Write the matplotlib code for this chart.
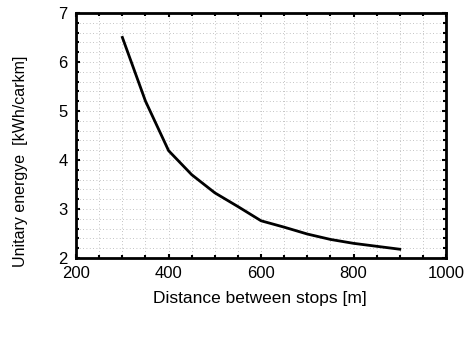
import numpy as np
import matplotlib
matplotlib.use("Agg")
import matplotlib.pyplot as plt
from matplotlib.ticker import MultipleLocator

# distance between stops [m] and unitary energy [kWh/carkm]
distance = [300, 350, 400, 450, 500, 550, 600, 650, 700, 750, 800, 850, 900]
energy = [6.50, 5.20, 4.19, 3.70, 3.33, 3.05, 2.76, 2.63, 2.49, 2.38, 2.30, 2.24, 2.18]

plt.rcParams['font.family'] = ['Liberation Sans', 'DejaVu Sans']

fig = plt.figure(figsize=(4.7, 3.4), dpi=100)
ax = fig.add_axes([0.162, 0.241, 0.787, 0.721])

ax.plot(distance, energy, '-', color='black', lw=2.0)

ax.set_xlim(200, 1000)
ax.set_ylim(2, 7)
ax.xaxis.set_major_locator(MultipleLocator(200))
ax.xaxis.set_minor_locator(MultipleLocator(50))
ax.yaxis.set_major_locator(MultipleLocator(1))
ax.yaxis.set_minor_locator(MultipleLocator(0.2))

ax.grid(True, which='both', linestyle=(0, (1, 3)), color='#b0b0b0', lw=0.6)
ax.tick_params(which='both', direction='in', top=True, right=True, color='black')
ax.tick_params(which='major', length=3, width=1.5, labelsize=12, pad=6)
ax.tick_params(which='minor', length=2.5, width=1.5)
for s in ax.spines.values():
    s.set_linewidth(2)

ax.set_xlabel("Distance between stops [m]", fontsize=12.5)
ax.set_ylabel("Unitary energye  [kWh/carkm]", fontsize=11.5)
ax.xaxis.set_label_coords(0.497, -0.135)
ax.yaxis.set_label_coords(-0.13, 0.396)

plt.savefig("out.png", dpi=100)
plt.close()
